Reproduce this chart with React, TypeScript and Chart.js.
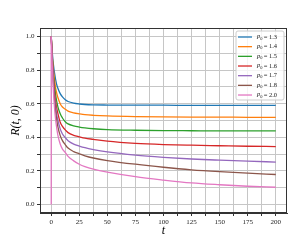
import React, { useEffect, useRef } from 'react';
import { Chart, registerables } from 'chart.js';

Chart.register(...registerables);

// ---- data ----
const tValues = [0, 1, 2, 3, 4, 5, 6, 8, 10, 12.5, 15, 20, 25, 30, 37.5, 50, 75, 100, 125, 150, 175, 200];

const rP13 = [1, 0.9, 0.83, 0.78, 0.74, 0.71, 0.69, 0.66, 0.64, 0.623, 0.613, 0.603, 0.598, 0.595, 0.593, 0.592, 0.591, 0.591, 0.59, 0.59, 0.59, 0.59];
const rP14 = [1, 0.88, 0.8, 0.74, 0.69, 0.66, 0.635, 0.6, 0.58, 0.567, 0.556, 0.546, 0.54, 0.535, 0.531, 0.527, 0.523, 0.521, 0.52, 0.52, 0.519, 0.519];
const rP15 = [1, 0.87, 0.77, 0.7, 0.65, 0.61, 0.58, 0.54, 0.515, 0.493, 0.48, 0.468, 0.461, 0.456, 0.451, 0.446, 0.442, 0.44, 0.439, 0.438, 0.438, 0.438];
const rP16 = [1, 0.86, 0.75, 0.67, 0.61, 0.57, 0.54, 0.49, 0.465, 0.444, 0.428, 0.412, 0.403, 0.395, 0.388, 0.377, 0.364, 0.357, 0.353, 0.35, 0.347, 0.345];
const rP17 = [1, 0.85, 0.73, 0.64, 0.58, 0.53, 0.5, 0.45, 0.42, 0.398, 0.38, 0.36, 0.348, 0.338, 0.327, 0.313, 0.294, 0.281, 0.271, 0.264, 0.258, 0.253];
const rP18 = [1, 0.84, 0.71, 0.62, 0.55, 0.5, 0.46, 0.41, 0.38, 0.357, 0.336, 0.315, 0.302, 0.29, 0.277, 0.262, 0.24, 0.222, 0.207, 0.196, 0.187, 0.179];
const rP20 = [1, 0.82, 0.67, 0.57, 0.5, 0.45, 0.41, 0.36, 0.33, 0.31, 0.287, 0.26, 0.24, 0.226, 0.211, 0.193, 0.166, 0.146, 0.129, 0.118, 0.109, 0.103];

// initial vertical jump of the p0 = 2.0 curve at t = 0
const pinkStartT = [0, 0];
const pinkStartR = [0, 1];

const p0Labels = ['1.3', '1.4', '1.5', '1.6', '1.7', '1.8', '2.0'];
const seriesColors = ['#1f77b4', '#ff7f0e', '#2ca02c', '#d62728', '#9467bd', '#8c564b', '#e377c2'];

const xGridValues = [0, 12.5, 25, 37.5, 50, 62.5, 75, 87.5, 100, 112.5, 125, 137.5, 150, 162.5, 175, 187.5, 200];
const xTickLabels = [0, 25, 50, 75, 100, 125, 150, 175, 200];
const yGridValues = [0, 0.1, 0.2, 0.3, 0.4, 0.5, 0.6, 0.7, 0.8, 0.9, 1.0];
const yTickLabels = [0, 0.2, 0.4, 0.6, 0.8, 1.0];

const SERIF = '"Liberation Serif", "DejaVu Serif", serif';

const framePlugin = {
  id: 'frame',
  afterDatasetsDraw(chart: any) {
    const { ctx, chartArea: a } = chart;
    ctx.save();
    ctx.strokeStyle = '#333333';
    ctx.lineWidth = 1;
    const l = Math.round(a.left) + 0.5;
    const t = Math.round(a.top) + 0.5;
    const r = Math.round(a.right) - 0.5;
    const b = Math.round(a.bottom) - 0.5;
    ctx.strokeRect(l, t, r - l, b - t);
    ctx.restore();
  },
};

const legendPlugin = {
  id: 'mplLegend',
  afterDraw(chart: any) {
    const { ctx, chartArea: a } = chart;
    const boxW = 48;
    const boxH = 69;
    const boxR = a.right - 3;
    const boxL = boxR - boxW;
    const boxT = a.top + 3;
    ctx.save();
    const rad = 2;
    ctx.beginPath();
    ctx.moveTo(boxL + rad, boxT);
    ctx.lineTo(boxR - rad, boxT);
    ctx.quadraticCurveTo(boxR, boxT, boxR, boxT + rad);
    ctx.lineTo(boxR, boxT + boxH - rad);
    ctx.quadraticCurveTo(boxR, boxT + boxH, boxR - rad, boxT + boxH);
    ctx.lineTo(boxL + rad, boxT + boxH);
    ctx.quadraticCurveTo(boxL, boxT + boxH, boxL, boxT + boxH - rad);
    ctx.lineTo(boxL, boxT + rad);
    ctx.quadraticCurveTo(boxL, boxT, boxL + rad, boxT);
    ctx.closePath();
    ctx.fillStyle = 'rgba(255,255,255,0.8)';
    ctx.fill();
    ctx.strokeStyle = '#cccccc';
    ctx.lineWidth = 1;
    ctx.stroke();

    p0Labels.forEach((lab, i) => {
      const y = boxT + 6 + i * 9.67;
      ctx.strokeStyle = seriesColors[i];
      ctx.lineWidth = 1.3;
      ctx.beginPath();
      ctx.moveTo(boxL + 2, y);
      ctx.lineTo(boxL + 16, y);
      ctx.stroke();

      ctx.fillStyle = '#222222';
      ctx.textBaseline = 'middle';
      ctx.textAlign = 'left';
      let x = boxL + 21;
      ctx.font = `italic 6.5px ${SERIF}`;
      ctx.fillText('p', x, y - 0.5);
      x += ctx.measureText('p').width;
      ctx.font = `4.5px ${SERIF}`;
      ctx.fillText('0', x, y + 1.5);
      x += ctx.measureText('0').width + 1.2;
      ctx.font = `6.5px ${SERIF}`;
      ctx.fillText('= ' + lab, x, y);
    });
    ctx.restore();
  },
};

export default function App() {
  const canvasRef = useRef<HTMLCanvasElement | null>(null);

  useEffect(() => {
    const canvas = canvasRef.current;
    if (!canvas) return;

    const curves = [rP13, rP14, rP15, rP16, rP17, rP18, rP20];
    const datasets: any[] = curves.map((vals, i) => ({
      label: 'p₀ = ' + p0Labels[i],
      data: tValues.map((t, j) => ({ x: t, y: vals[j] })),
      borderColor: seriesColors[i],
      backgroundColor: seriesColors[i],
      borderWidth: 1.3,
      pointRadius: 0,
      cubicInterpolationMode: 'monotone',
      fill: false,
      order: curves.length - i,
    }));
    datasets.push({
      label: 'p₀ = 2.0 (t = 0)',
      data: pinkStartT.map((t, j) => ({ x: t, y: pinkStartR[j] })),
      borderColor: seriesColors[6],
      borderWidth: 1.3,
      pointRadius: 0,
      tension: 0,
      fill: false,
      order: 0,
    });

    const chart = new Chart(canvas, {
      type: 'line',
      data: { datasets },
      options: {
        responsive: false,
        animation: false,
        devicePixelRatio: 1,
        layout: { padding: { top: 28, right: 4, left: 0, bottom: 0 } },
        plugins: {
          legend: { display: false },
          tooltip: { enabled: false },
        },
        scales: {
          x: {
            type: 'linear',
            min: -10,
            max: 210,
            afterBuildTicks: (axis: any) => {
              axis.ticks = xGridValues.map((v) => ({ value: v }));
            },
            afterFit: (axis: any) => {
              axis.height = 27;
            },
            ticks: {
              autoSkip: false,
              maxRotation: 0,
              padding: 2,
              color: '#222222',
              font: { family: SERIF, size: 7 },
              callback: (value: any) =>
                xTickLabels.some((v) => Math.abs(v - Number(value)) < 1e-9) ? String(value) : '',
            },
            grid: {
              color: '#c6c6c6',
              lineWidth: 1,
              tickColor: '#333333',
              tickLength: 3,
              drawTicks: true,
            },
            border: { display: true, color: '#333333' },
            title: {
              display: true,
              text: 't',
              color: '#000000',
              font: { family: SERIF, size: 12, style: 'italic' },
              padding: { top: 0, bottom: 2 },
            },
          },
          y: {
            type: 'linear',
            min: -0.05,
            max: 1.05,
            afterBuildTicks: (axis: any) => {
              axis.ticks = yGridValues.map((v) => ({ value: v }));
            },
            afterFit: (axis: any) => {
              axis.width = 40;
            },
            ticks: {
              autoSkip: false,
              padding: 2.5,
              color: '#222222',
              font: { family: SERIF, size: 7 },
              callback: (value: any) =>
                yTickLabels.some((v) => Math.abs(v - Number(value)) < 1e-9) ? Number(value).toFixed(1) : '',
            },
            grid: {
              color: '#c6c6c6',
              lineWidth: 1,
              tickColor: '#333333',
              tickLength: 3,
              drawTicks: true,
            },
            border: { display: true, color: '#333333' },
            title: {
              display: true,
              text: 'R(t, 0)',
              color: '#000000',
              font: { family: SERIF, size: 12, style: 'italic' },
              padding: { top: 8.5, bottom: 0 },
            },
          },
        },
      } as any,
      plugins: [framePlugin, legendPlugin],
    });

    return () => {
      chart.destroy();
    };
  }, []);

  return (
    <div style={{ position: 'fixed', left: 0, top: 0, width: 291, height: 240, background: '#ffffff' }}>
      <canvas ref={canvasRef} width={291} height={240} style={{ width: 291, height: 240, display: 'block' }} />
    </div>
  );
}
